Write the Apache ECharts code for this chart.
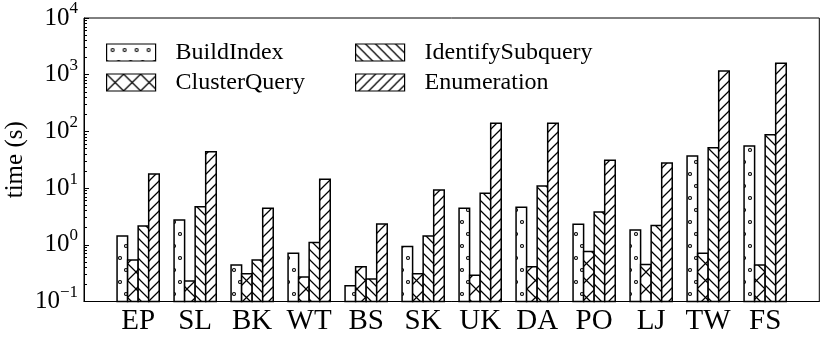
<!DOCTYPE html>
<html><head><meta charset="utf-8">
<script src="https://cdn.jsdelivr.net/npm/echarts@6/dist/echarts.min.js"></script>
<style>html,body{margin:0;padding:0;background:#fff}#c{width:830px;height:342px}</style>
</head><body><div id="c"></div>
<script>
// ---- data ----
const categories = ['EP','SL','BK','WT','BS','SK','UK','DA','PO','LJ','TW','FS'];
const buildIndex       = [1.43, 2.74, 0.44, 0.71, 0.19, 0.93, 4.4, 4.6, 2.3, 1.82, 36.8, 55.3];
const clusterQuery     = [0.54, 0.23, 0.31, 0.27, 0.41, 0.31, 0.29, 0.41, 0.76, 0.45, 0.71, 0.44];
const identifySubquery = [2.15, 4.7, 0.54, 1.1, 0.25, 1.43, 8.1, 10.9, 3.79, 2.2, 51.6, 87.5];
const enumeration      = [17.7, 43.8, 4.4, 14.3, 2.33, 9.25, 139, 139, 31, 27.7, 1161, 1585];
const seriesNames = ['BuildIndex','ClusterQuery','IdentifySubquery','Enumeration'];
const yMajorTicks = [0.1, 1, 10, 100, 1000, 10000];
const yExponents  = ['\u22121', '0', '1', '2', '3', '4'];

// ---- style ----
const FONT = '"Liberation Serif","Times New Roman",serif';
const Y_MIN = 0.1, Y_MAX = 10000;
const BW = 0.185; // bar width in category units

function tile(w, h, draw) {
  const c = document.createElement('canvas');
  c.width = w; c.height = h;
  const g = c.getContext('2d');
  g.fillStyle = '#fff'; g.fillRect(0, 0, w, h);
  g.strokeStyle = '#000'; g.lineWidth = 1.25;
  draw(g, w, h);
  return { image: c, repeat: 'repeat' };
}
function neLines(g, s) { // '/'
  g.beginPath();
  for (let k = -1; k <= 1; k++) { g.moveTo(k*s - 2, s + 2); g.lineTo(k*s + s + 2, -2); }
  g.stroke();
}
function nwLines(g, s) { // '\'
  g.beginPath();
  for (let k = -1; k <= 1; k++) { g.moveTo(k*s - 2, -2); g.lineTo(k*s + s + 2, s + 2); }
  g.stroke();
}
const patDots = tile(12, 24, (g, w, h) => {
  g.lineWidth = 1.1;
  [[6, 6], [0, 18], [12, 18]].forEach(p => { g.beginPath(); g.arc(p[0], p[1], 1.5, 0, Math.PI*2); g.stroke(); });
});
const patX = tile(17, 17, (g, w) => { neLines(g, w); nwLines(g, w); });
const patBack = tile(10, 10, (g, w) => nwLines(g, w));
const patFwd = tile(10, 10, (g, w) => neLines(g, w));
const patterns = [patDots, patX, patBack, patFwd];
const values = [buildIndex, clusterQuery, identifySubquery, enumeration];

const yMinor = [];
for (let e = -1; e < 4; e++) for (let m = 2; m <= 9; m++) yMinor.push(m * Math.pow(10, e));

function makeSeries(idx) {
  const pattern = patterns[idx];
  return {
    type: 'custom', name: seriesNames[idx],
    xAxisIndex: 0, yAxisIndex: 0,
    itemStyle: { color: pattern, borderColor: '#000', borderWidth: 1.5 },
    encode: { x: 0, y: 1 },
    data: values[idx].map((v, i) => [i, v]),
    renderItem(params, api) {
      const i = api.value(0), v = api.value(1);
      const off = (idx - 1.5) * BW;
      const p0 = api.coord([i + off - BW/2, v]);
      const p1 = api.coord([i + off + BW/2, Y_MIN]);
      return { type: 'rect',
        shape: { x: p0[0], y: p0[1], width: p1[0] - p0[0], height: p1[1] - p0[1] },
        style: { fill: pattern, stroke: '#000', lineWidth: 1.5 } };
    }
  };
}

const legendCommon = {
  orient: 'vertical', top: 40.5, padding: 0, itemWidth: 49, itemHeight: 17, itemGap: 6,
  icon: 'rect', selectedMode: false,
  itemStyle: { borderColor: '#000', borderWidth: 1.2 },
  textStyle: { fontFamily: FONT, fontSize: 24, color: '#000', lineHeight: 24, padding: [0, 0, 0, 15] }
};

const chart = echarts.init(document.getElementById('c'), null, { renderer: 'canvas' });
chart.setOption({
  animation: false,
  backgroundColor: '#fff',
  grid: { left: 84, top: 18, right: 10.7, bottom: 40.5, show: true, borderColor: '#000', borderWidth: 1,
          containLabel: false, outerBoundsMode: 'none' },
  legend: [
    Object.assign({}, legendCommon, { left: 106, data: [seriesNames[0], seriesNames[1]] }),
    Object.assign({}, legendCommon, { left: 355, data: [seriesNames[2], seriesNames[3]] })
  ],
  xAxis: {
    type: 'value', min: -0.95, max: 11.95,
    axisLine: { show: true, onZero: false, lineStyle: { color: '#000', width: 1 } },
    axisTick: { show: true, inside: true, length: 5, lineStyle: { color: '#000' }, customValues: categories.map((c, i) => i) },
    axisLabel: { show: true, customValues: categories.map((c, i) => i), formatter: v => categories[Math.round(v)],
      fontFamily: FONT, fontSize: 29, color: '#000', margin: 5 },
    splitLine: { show: false }
  },
  yAxis: [{
    type: 'log', logBase: 10, min: Y_MIN, max: Y_MAX,
    name: 'time (s)', nameLocation: 'middle', nameGap: 56, nameMoveOverlap: false,
    nameTextStyle: { fontFamily: FONT, fontSize: 25, color: '#000' },
    axisLine: { show: true, onZero: false, lineStyle: { color: '#000', width: 1 } },
    axisTick: { show: true, inside: true, length: 5, lineStyle: { color: '#000' }, customValues: yMajorTicks },
    axisLabel: { customValues: yMajorTicks, margin: 6,
      formatter: v => { const k = yMajorTicks.findIndex(t => Math.abs(Math.log10(t) - Math.log10(v)) < 1e-6); return '{b|10}{s|' + yExponents[k] + '}'; },
      rich: {
        b: { fontFamily: FONT, fontSize: 25, lineHeight: 25, color: '#000', verticalAlign: 'bottom' },
        s: { fontFamily: FONT, fontSize: 17, lineHeight: 17, color: '#000', verticalAlign: 'bottom', padding: [0, 0, 13, 0] }
      } },
    splitLine: { show: false }
  }, {
    type: 'log', logBase: 10, min: Y_MIN, max: Y_MAX, position: 'left',
    axisLine: { show: false, onZero: false }, axisLabel: { show: false }, splitLine: { show: false },
    axisTick: { show: true, inside: true, length: 3, lineStyle: { color: '#000' }, customValues: yMinor }
  }],
  series: [0, 1, 2, 3].map(makeSeries)
});
</script></body></html>
